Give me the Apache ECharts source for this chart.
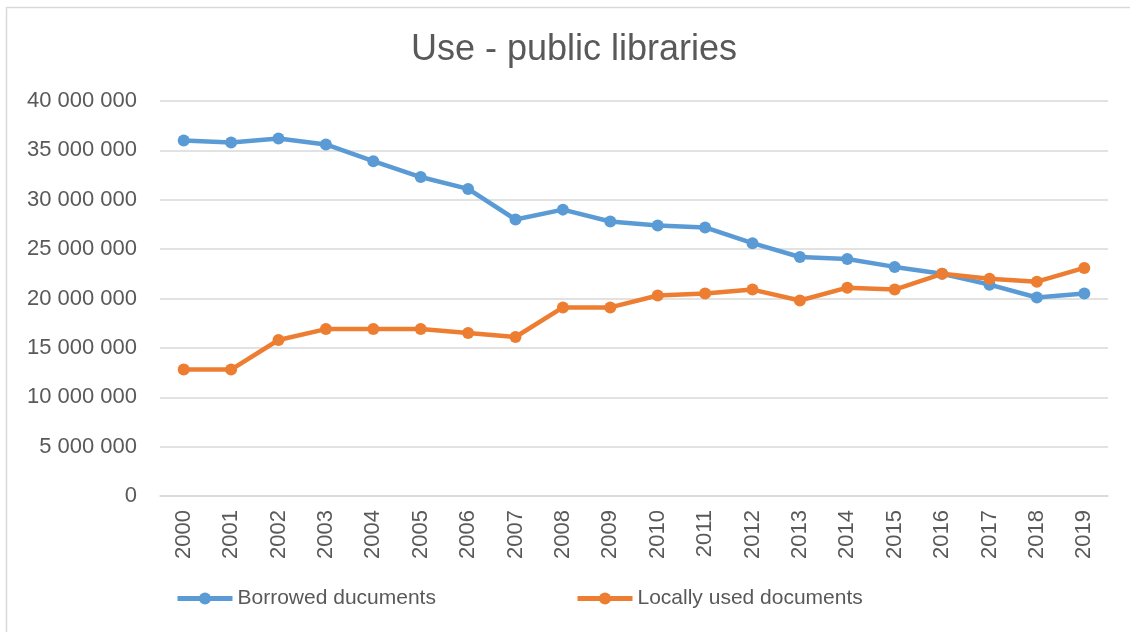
<!DOCTYPE html>
<html>
<head>
<meta charset="utf-8">
<script src="https://cdn.jsdelivr.net/npm/echarts@6/dist/echarts.min.js"></script>
<style>
  html, body { margin: 0; padding: 0; background: #ffffff; }
  #chart { width: 1130px; height: 632px; }
</style>
</head>
<body>
<div id="chart"></div>
<script>
// Years shown on the category axis
const years = ['2000','2001','2002','2003','2004','2005','2006','2007','2008','2009',
               '2010','2011','2012','2013','2014','2015','2016','2017','2018','2019'];

// Documents borrowed from public libraries per year
const borrowed = [36000000, 35800000, 36200000, 35600000, 33900000, 32300000, 31100000, 28000000,
                  29000000, 27800000, 27400000, 27200000, 25600000, 24200000, 24000000, 23200000,
                  22500000, 21400000, 20100000, 20500000];

// Documents used on the premises per year
const locallyUsed = [12800000, 12800000, 15800000, 16900000, 16900000, 16900000, 16500000, 16100000,
                     19100000, 19100000, 20300000, 20500000, 20900000, 19800000, 21100000, 20900000,
                     22500000, 22000000, 21700000, 23100000];

const seriesNames = ['Borrowed ducuments', 'Locally used documents'];
const colors = ['#5B9BD5', '#ED7D31'];
const textColor = '#595959';
const fontFamily = '"Liberation Sans", Arial, sans-serif';

// Thousands separated by spaces: 35 000 000
function spaced(v) {
  return String(Math.round(v)).replace(/\B(?=(\d{3})+(?!\d))/g, ' ');
}

const chart = echarts.init(document.getElementById('chart'), null, { renderer: 'canvas' });

function lineSeries(name, data, color) {
  return {
    name: name,
    type: 'line',
    data: data,
    symbol: 'circle',
    symbolSize: 12,
    lineStyle: { color: color, width: 4.5 },
    itemStyle: { color: color },
    emphasis: { disabled: true },
    animation: false
  };
}

function legendFor(name, left) {
  return {
    data: [name],
    left: left,
    top: 588,
    padding: 0,
    itemWidth: 55,
    itemHeight: 15,
    itemGap: 8,
    lineStyle: { width: 5 },
    textStyle: { color: textColor, fontFamily: fontFamily, fontSize: 21 }
  };
}

chart.setOption({
  backgroundColor: '#ffffff',
  animation: false,
  graphic: [{
    type: 'rect',
    shape: { x: 6.5, y: 7.5, width: 1200, height: 700 },
    style: { fill: 'none', stroke: '#d9d9d9', lineWidth: 1.5 },
    silent: true,
    z: -1
  }],
  title: {
    text: 'Use - public libraries',
    left: 569,
    top: 27,
    textAlign: 'center',
    textStyle: { color: textColor, fontFamily: fontFamily, fontSize: 36, fontWeight: 'normal' }
  },
  legend: [legendFor(seriesNames[0], 175), legendFor(seriesNames[1], 575)],
  grid: { left: 160, right: 22, top: 101, bottom: 136, containLabel: false },
  xAxis: {
    type: 'category',
    data: years,
    boundaryGap: true,
    axisLine: { show: true, lineStyle: { color: '#d9d9d9', width: 1.5 } },
    axisTick: { show: false },
    axisLabel: {
      rotate: 90,
      margin: 14,
      color: textColor,
      fontFamily: fontFamily,
      fontSize: 22
    }
  },
  yAxis: {
    type: 'value',
    min: 0,
    max: 40000000,
    interval: 5000000,
    axisLine: { show: false },
    axisTick: { show: false },
    splitLine: { lineStyle: { color: '#d9d9d9', width: 1.5 } },
    axisLabel: {
      margin: 23,
      color: textColor,
      fontFamily: fontFamily,
      fontSize: 22,
      formatter: spaced
    }
  },
  series: [
    lineSeries(seriesNames[0], borrowed, colors[0]),
    lineSeries(seriesNames[1], locallyUsed, colors[1])
  ]
});
</script>
</body>
</html>
